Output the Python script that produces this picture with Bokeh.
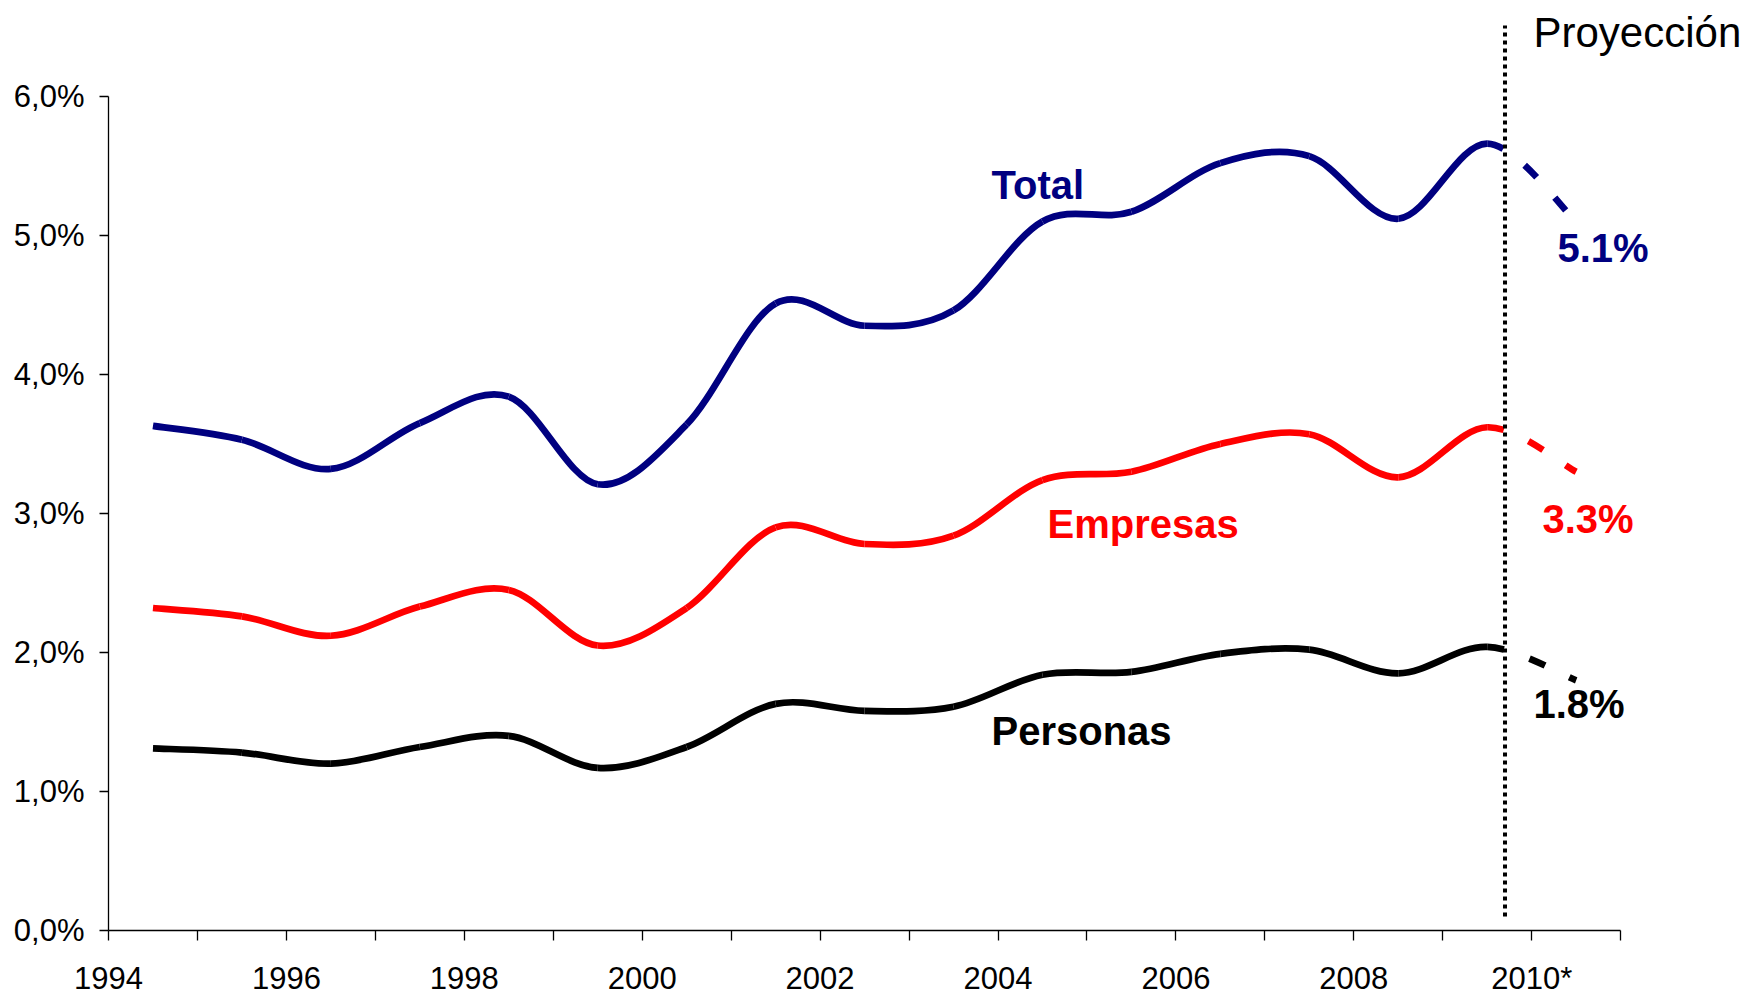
from bokeh.plotting import figure
from bokeh.models import FixedTicker, Label, Range1d
from bokeh.embed import file_html
from bokeh.resources import INLINE

# ---------------- data ----------------
YEARS = [1994, 1995, 1996, 1997, 1998, 1999, 2000, 2001,
         2002, 2003, 2004, 2005, 2006, 2007, 2008, 2009]
TOTAL = [3.63, 3.53, 3.32, 3.65, 3.84, 3.21, 3.64, 4.51,
         4.35, 4.46, 5.10, 5.17, 5.52, 5.57, 5.12, 5.66]
EMPRESAS = [2.32, 2.26, 2.12, 2.33, 2.45, 2.05, 2.32, 2.90,
            2.78, 2.84, 3.24, 3.30, 3.50, 3.57, 3.26, 3.62]
PERSONAS = [1.31, 1.28, 1.20, 1.32, 1.40, 1.17, 1.32, 1.63,
            1.58, 1.61, 1.84, 1.86, 1.99, 2.02, 1.85, 2.04]

PROJ_YEAR = 2010
TOTAL_PROJ = 5.10
EMPRESAS_PROJ = 3.30
PERSONAS_PROJ = 1.80

SERIES_NAMES = ["Total", "Empresas", "Personas"]
PROJ_LABELS = ["5.1%", "3.3%", "1.8%"]
Y_TICKS = [0, 1, 2, 3, 4, 5, 6]
Y_TICK_LABELS = ["0,0%", "1,0%", "2,0%", "3,0%", "4,0%", "5,0%", "6,0%"]
X_TICKS = list(range(1994, 2012))
X_TICK_LABELS = {1994: "1994", 1996: "1996", 1998: "1998", 2000: "2000",
                 2002: "2002", 2004: "2004", 2006: "2006", 2008: "2008",
                 2010: "2010*"}
PROJ_TEXT = "Proyección"

# ---------------- layout / style ----------------
W, H = 1750, 998
FRAME_LEFT = 108
FRAME_TOP = 10
AXIS_Y = 931
PX_PER_YEAR = 88.95
PX_PER_PCT = 139.17
PROJ_LINE_X = 2009.7
LABEL_DY = 15          # compensation for rendered baseline offset
NAVY, RED, BLACK = "#000080", "#FF0000", "#000000"
FONT = "Liberation Sans"


def dx(px):
    return 1994 + (px - FRAME_LEFT) / PX_PER_YEAR


def dy(py):
    return (AXIS_Y - py) / PX_PER_PCT


x_range = Range1d(1994, dx(W))
y_range = Range1d(0, dy(FRAME_TOP))

p = figure(width=W, height=H, x_range=x_range, y_range=y_range,
           output_backend="svg", toolbar_location=None,
           min_border_left=FRAME_LEFT, min_border_right=0,
           min_border_top=FRAME_TOP, min_border_bottom=H - AXIS_Y)
p.outline_line_color = None
p.xgrid.visible = False
p.ygrid.visible = False
p.background_fill_color = "white"
p.border_fill_color = "white"

# axes
xa = p.xaxis[0]
xa.ticker = FixedTicker(ticks=X_TICKS)
xa.major_label_overrides = {t: X_TICK_LABELS.get(t, "") for t in X_TICKS}
xa.bounds = (1994, 2011)
xa.minor_tick_line_color = None
xa.major_tick_in = 0
xa.major_tick_out = 10
xa.axis_line_color = BLACK
xa.axis_line_width = 1.3
xa.major_tick_line_width = 1.3
xa.major_label_text_font = FONT
xa.major_label_text_font_size = "31px"
xa.major_label_text_color = BLACK
xa.major_label_standoff = 20

ya = p.yaxis[0]
ya.ticker = FixedTicker(ticks=Y_TICKS)
ya.major_label_overrides = {t: l for t, l in zip(Y_TICKS, Y_TICK_LABELS)}
ya.bounds = (0, 6)
ya.minor_tick_line_color = None
ya.major_tick_in = 0
ya.major_tick_out = 9
ya.axis_line_color = BLACK
ya.axis_line_width = 1.3
ya.major_tick_line_width = 1.3
ya.major_label_text_font = FONT
ya.major_label_text_font_size = "31px"
ya.major_label_text_color = BLACK
ya.major_label_standoff = 15


def smooth_segments(xs, ys, t=1.0 / 6.0):
    """Bezier control points of a Catmull-Rom style smoothed line (like Excel)."""
    n = len(xs)
    seg = dict(x0=[], y0=[], x1=[], y1=[], cx0=[], cy0=[], cx1=[], cy1=[])
    for i in range(n - 1):
        x0, y0, x1, y1 = xs[i], ys[i], xs[i + 1], ys[i + 1]
        xm, ym = (xs[i - 1], ys[i - 1]) if i > 0 else (x0, y0)
        x2, y2 = (xs[i + 2], ys[i + 2]) if i + 2 < n else (x1, y1)
        seg["x0"].append(x0); seg["y0"].append(y0)
        seg["x1"].append(x1); seg["y1"].append(y1)
        seg["cx0"].append(x0 + (x1 - xm) * t); seg["cy0"].append(y0 + (y1 - ym) * t)
        seg["cx1"].append(x1 - (x2 - x0) * t); seg["cy1"].append(y1 - (y2 - y0) * t)
    return seg


xc = [y + 0.5 for y in YEARS] + [PROJ_YEAR + 0.5]

for vals, proj, col in [(TOTAL, TOTAL_PROJ, NAVY),
                        (EMPRESAS, EMPRESAS_PROJ, RED),
                        (PERSONAS, PERSONAS_PROJ, BLACK)]:
    seg = smooth_segments(xc, vals + [proj])
    solid = {k: v[:-1] for k, v in seg.items()}
    dashed = {k: v[-1:] for k, v in seg.items()}
    p.bezier(line_color=col, line_width=6.7, **solid)
    p.bezier(line_color=col, line_width=6.7, line_dash="17 27",
             line_cap="butt", **dashed)

# projection divider
p.line([PROJ_LINE_X, PROJ_LINE_X], [dy(917), dy(25)], line_color=BLACK,
       line_width=4, line_dash="4 4")

# series labels (left x, baseline y in screen pixels)
label_specs = [
    (SERIES_NAMES[0], 993, 200, NAVY),
    (SERIES_NAMES[1], 1049, 539, RED),
    (SERIES_NAMES[2], 993, 746, BLACK),
    (PROJ_LABELS[0], 1559, 263, NAVY),
    (PROJ_LABELS[1], 1544, 534, RED),
    (PROJ_LABELS[2], 1535, 719, BLACK),
]
for txt, px, py, col in label_specs:
    p.add_layout(Label(x=dx(px - 2), y=dy(py - LABEL_DY), text=txt,
                       text_color=col, text_font=FONT, text_font_size="40px",
                       text_font_style="bold", text_align="left",
                       text_baseline="alphabetic"))

p.add_layout(Label(x=dx(1533), y=dy(47 - LABEL_DY), text=PROJ_TEXT,
                   text_color=BLACK, text_font=FONT, text_font_size="42px",
                   text_align="left", text_baseline="alphabetic"))

open("out.html", "w").write(file_html(p, INLINE))
